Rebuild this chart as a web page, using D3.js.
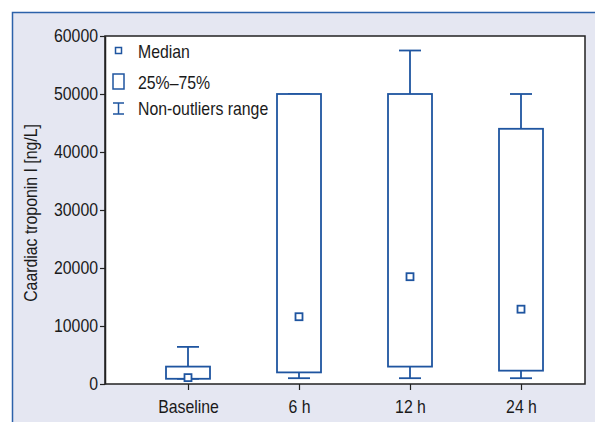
<!DOCTYPE html>
<html>
<head>
<meta charset="utf-8">
<script src="https://cdn.jsdelivr.net/npm/d3@7"></script>
<style>
  body { margin: 0; background: #fff; }
  text { font-family: "Liberation Sans", Arial, sans-serif; fill: #1a1a1a; }
</style>
</head>
<body>
<div id="my_dataviz"></div>
<script>
// data
let categories = ["Baseline", "6 h", "12 h", "24 h"];
let mins    = [900, 1000, 1000, 1000];
let q1s     = [900, 2000, 3000, 2300];
let medians = [1100, 11600, 18500, 12900];
let q3s     = [3000, 50000, 50000, 44000];
let maxs    = [6400, 50000, 57500, 50000];
let yTicks  = [0, 10000, 20000, 30000, 40000, 50000, 60000];
let legendLabels = ["Median", "25%\u201375%", "Non-outliers range"];

let data = categories.map(function(c, i) {
  return {cat: c, min: mins[i], q1: q1s[i], med: medians[i], q3: q3s[i], max: maxs[i]};
});

let blue = "#1f55a0";
let squeeze = 0.88; // the original font is a condensed one

// set the dimensions and margins of the graph
let margin = {top: 36, right: 10, bottom: 38, left: 105},
  width = 595 - margin.left - margin.right,
  height = 422 - margin.top - margin.bottom;

let root = d3.select("#my_dataviz")
.append("svg")
  .attr("width", 595)
  .attr("height", 422);

// lavender panel, border only on top and left
root.append("rect")
  .attr("x", 12).attr("y", 12)
  .attr("width", 595).attr("height", 422)
  .attr("fill", "#e5e7f2");
root.append("path")
  .attr("d", "M12.5,422V12.5H595")
  .attr("fill", "none")
  .attr("stroke", "#2c62aa")
  .attr("stroke-width", 1.5);

let svg = root.append("g")
  .attr("transform", "translate(" + margin.left + "," + margin.top + ")");

// plot area
svg.append("rect")
  .attr("width", width)
  .attr("height", height)
  .attr("fill", "#fff")
  .attr("stroke", "#222")
  .attr("stroke-width", 1.5);

// scales
let x = d3.scalePoint()
  .domain(categories)
  .range([83, 416]);

let y = d3.scaleLinear()
  .domain([0, 60000])
  .range([height, 0]);

// Y axis
let yAxis = svg.append("g")
  .call(d3.axisLeft(y).tickValues(yTicks).tickFormat(d3.format("d")).tickSize(5).tickSizeOuter(0));
yAxis.select(".domain").attr("stroke", "#222").attr("stroke-width", 1.5);
yAxis.selectAll(".tick line").attr("stroke", "#222").attr("stroke-width", 1.2);
yAxis.selectAll("text")
  .attr("x", -7 / squeeze)
  .attr("transform", "scale(" + squeeze + ",1)")
  .style("font-size", "18px")
  .style("font-family", null);

// X axis
let xAxis = svg.append("g")
  .attr("transform", "translate(0," + height + ")")
  .call(d3.axisBottom(x).tickSize(6).tickSizeOuter(0));
xAxis.select(".domain").remove();
xAxis.selectAll(".tick line").attr("stroke", "#222").attr("stroke-width", 1.2);
xAxis.selectAll("text")
  .attr("y", 16)
  .attr("transform", "scale(" + squeeze + ",1)")
  .style("font-size", "18px")
  .style("font-family", null);

// y axis title
root.append("text")
  .attr("transform", "translate(37,213) rotate(-90) scale(" + squeeze + ",1)")
  .attr("text-anchor", "middle")
  .style("font-size", "18px")
  .text("Caardiac troponin I [ng/L]");

let boxW = 44, capW = 22, sq = 7;

let boxes = svg.append("g")
  .selectAll("g")
  .data(data)
  .enter()
  .append("g");

// whiskers
boxes.append("line")
  .attr("x1", function(d) { return x(d.cat); })
  .attr("x2", function(d) { return x(d.cat); })
  .attr("y1", function(d) { return y(d.q3); })
  .attr("y2", function(d) { return y(d.max); })
  .attr("stroke", blue).attr("stroke-width", 1.8);
boxes.append("line")
  .attr("x1", function(d) { return x(d.cat); })
  .attr("x2", function(d) { return x(d.cat); })
  .attr("y1", function(d) { return y(d.q1); })
  .attr("y2", function(d) { return y(d.min); })
  .attr("stroke", blue).attr("stroke-width", 1.8);
boxes.append("line")
  .attr("x1", function(d) { return x(d.cat) - capW / 2; })
  .attr("x2", function(d) { return x(d.cat) + capW / 2; })
  .attr("y1", function(d) { return y(d.max); })
  .attr("y2", function(d) { return y(d.max); })
  .attr("stroke", blue).attr("stroke-width", 1.8);
boxes.append("line")
  .attr("x1", function(d) { return x(d.cat) - capW / 2; })
  .attr("x2", function(d) { return x(d.cat) + capW / 2; })
  .attr("y1", function(d) { return y(d.min); })
  .attr("y2", function(d) { return y(d.min); })
  .attr("stroke", blue).attr("stroke-width", 1.8);

// boxes
boxes.append("rect")
  .attr("x", function(d) { return x(d.cat) - boxW / 2; })
  .attr("y", function(d) { return y(d.q3); })
  .attr("width", boxW)
  .attr("height", function(d) { return y(d.q1) - y(d.q3); })
  .attr("fill", "#fff")
  .attr("stroke", blue).attr("stroke-width", 1.8);

// medians
boxes.append("rect")
  .attr("x", function(d) { return x(d.cat) - sq / 2; })
  .attr("y", function(d) { return y(d.med) - sq / 2; })
  .attr("width", sq).attr("height", sq)
  .attr("fill", "#fff")
  .attr("stroke", blue).attr("stroke-width", 1.8);

// legend
let legend = root.append("g");
legend.append("rect")
  .attr("x", 115.5).attr("y", 47.5).attr("width", 6).attr("height", 6)
  .attr("fill", "#fff").attr("stroke", blue).attr("stroke-width", 1.5);
legend.append("rect")
  .attr("x", 113).attr("y", 74).attr("width", 11).attr("height", 15)
  .attr("fill", "#fff").attr("stroke", blue).attr("stroke-width", 1.5);
legend.append("path")
  .attr("d", "M113,103H124M118.5,103V114M113,114H124")
  .attr("fill", "none").attr("stroke", blue).attr("stroke-width", 1.5);
legend.selectAll("text")
  .data(legendLabels)
  .enter()
  .append("text")
    .attr("transform", function(d, i) { return "translate(138," + [58, 89, 115][i] + ") scale(" + squeeze + ",1)"; })
    .style("font-size", "18px")
    .text(function(d) { return d; });
</script>
</body>
</html>
